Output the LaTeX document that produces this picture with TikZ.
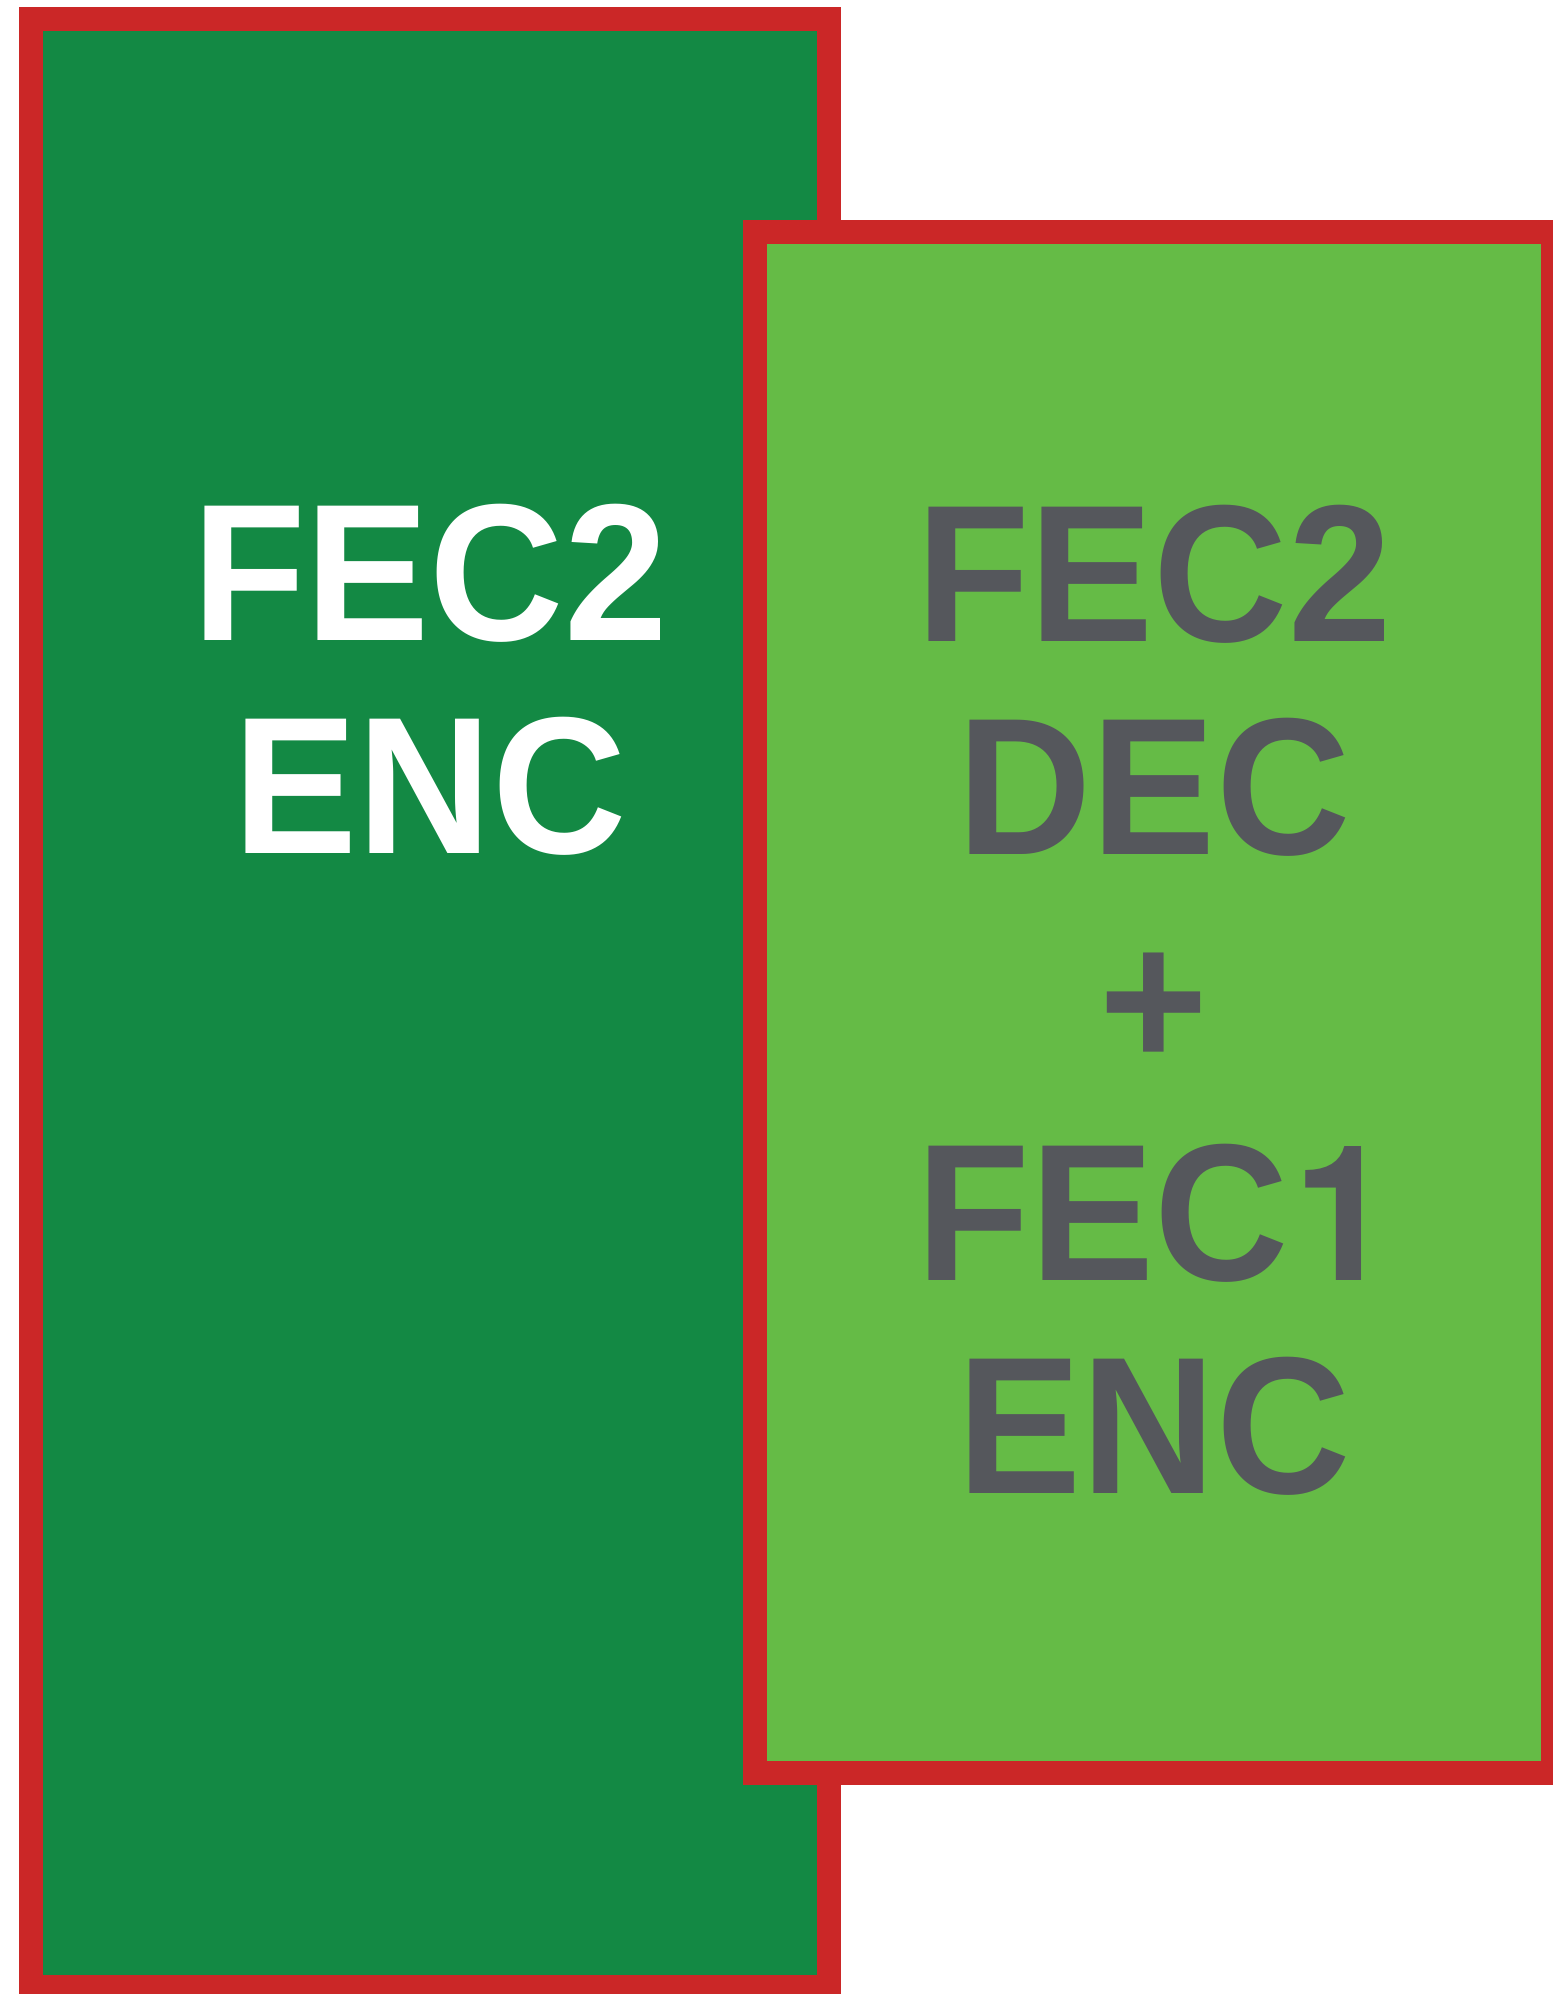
\documentclass[tikz,border=0pt]{standalone}
\usepackage{fontspec}
\usepackage{graphicx}
\setmainfont{Liberation Sans}
\newfontfamily\herosfont{TeX Gyre Heros}
\definecolor{darkgr}{HTML}{138944}
\definecolor{lightgr}{HTML}{65BB46}
\definecolor{bred}{HTML}{CB2727}
\definecolor{txtgray}{HTML}{55575C}
\newcommand\tallline[1]{\scalebox{1}[1.05]{#1}}
\newcommand\plainone{\hspace{2.5pt}{\herosfont\bfseries\fontsize{90}{106.5}\selectfont 1}\hspace{-1.4pt}}
\tikzset{
  blockbox/.style={draw=bred, line width=12pt},
  bigtext/.style={font=\bfseries\fontsize{93}{106.5}\selectfont, align=center, inner sep=0pt},
}
\begin{document}
\begin{tikzpicture}[x=1pt,y=1pt]
\useasboundingbox (0,0) rectangle (776.5,-997);
\draw[blockbox, fill=darkgr] (15.5,-9.5) rectangle (414.5,-993.5);
\coordinate (lc) at (215,-340);
\draw[blockbox, fill=lightgr] (377.5,-116) rectangle (776.5,-886.5);
\coordinate (rc) at (577,-500);
\node[bigtext, text=white] (enc) at (lc) {\tallline{FEC2}\\\tallline{ENC}};
\node[bigtext, text=txtgray] (dec) at (rc) {\tallline{FEC2}\\\tallline{DEC}\\\tallline{+}\\\tallline{FEC\plainone}\\\tallline{ENC}};
\end{tikzpicture}
\end{document}
